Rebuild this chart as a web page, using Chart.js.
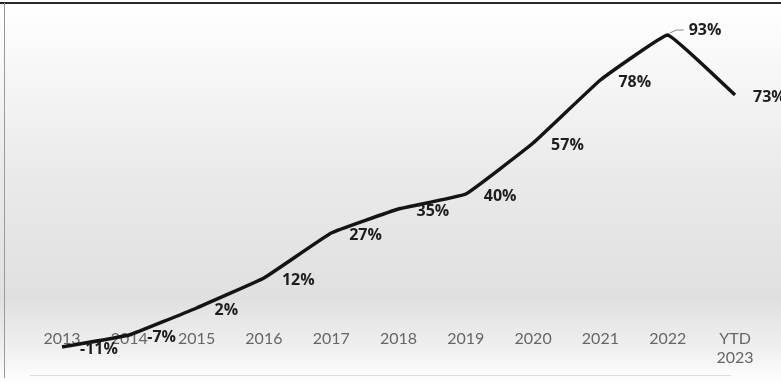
<!DOCTYPE html>
<html>
<head>
<meta charset="utf-8">
<script src="https://cdn.jsdelivr.net/npm/chart.js@4"></script>
<style>
  html, body { margin: 0; padding: 0; background: #fff; }
  #wrap { width: 781px; height: 383px; }
</style>
</head>
<body>
<div id="wrap"><canvas id="myChart" width="781" height="383"></canvas></div>
<script>
// chart data
const years = ['2013', '2014', '2015', '2016', '2017', '2018', '2019', '2020', '2021', '2022', ['YTD', '2023']]
const growth = [-11, -7, 2, 12, 27, 35, 40, 57, 78, 93, 73]

// background gradient + frame, like the scanned slide
const backdrop = {
  id: 'backdrop',
  beforeDraw(chart) {
    const ctx = chart.ctx
    const w = chart.width, h = chart.height
    const g = ctx.createLinearGradient(0, 0, 0, h)
    g.addColorStop(0, '#ffffff')
    g.addColorStop(0.12, '#fafafa')
    g.addColorStop(0.45, '#eaeaea')
    g.addColorStop(0.78, '#e0e0e0')
    g.addColorStop(0.92, '#f1f1f1')
    g.addColorStop(1, '#ffffff')
    ctx.save()
    ctx.fillStyle = g
    ctx.fillRect(0, 0, w, h)
    ctx.fillStyle = '#2a2a2a'
    ctx.fillRect(0, 2, w, 2)
    ctx.fillStyle = '#9a9a9a'
    ctx.fillRect(4, 3, 1, h - 8)
    ctx.fillStyle = '#dcdcdc'
    ctx.fillRect(30, h - 8, w - 80, 1)
    ctx.restore()
  }
}

// value labels to the right of each point
const valueLabels = {
  id: 'valueLabels',
  afterDatasetsDraw(chart) {
    const ctx = chart.ctx
    const meta = chart.getDatasetMeta(0)
    const data = chart.data.datasets[0].data
    const top = Math.max(...data)
    ctx.save()
    ctx.font = 'bold 16px "Open Sans"'
    ctx.fillStyle = '#1e1e1e'
    ctx.textBaseline = 'middle'
    meta.data.forEach((pt, i) => {
      let x = pt.x + 18, y = pt.y + 2
      if (data[i] === top) {
        // little leader line for the peak
        y = pt.y - 5
        ctx.strokeStyle = '#888'
        ctx.lineWidth = 1
        ctx.beginPath()
        ctx.moveTo(pt.x + 2, pt.y - 2)
        ctx.lineTo(pt.x + 9, pt.y - 5)
        ctx.lineTo(pt.x + 16, pt.y - 5)
        ctx.stroke()
        x = pt.x + 21
      }
      ctx.fillText(data[i] + '%', x, y)
    })
    ctx.restore()
  }
}

const ctx = document.getElementById('myChart').getContext('2d')
const chart = new Chart(ctx, {
  type: 'line',
  data: {
    labels: years,
    datasets: [{
      data: growth,
      borderColor: '#141414',
      borderWidth: 3.5,
      pointRadius: 0,
      tension: 0.08,
      clip: false
    }]
  },
  options: {
    responsive: false,
    animation: false,
    layout: { padding: { left: 62, right: 46, top: 35, bottom: 36 } },
    plugins: { legend: { display: false }, tooltip: { enabled: false } },
    scales: {
      x: {
        position: { y: -4 },
        offset: false,
        grid: { display: false, drawTicks: false },
        border: { display: false },
        ticks: {
          color: '#666666',
          padding: 3,
          maxRotation: 0,
          autoSkip: false,
          font: { family: 'Lato', size: 16 }
        }
      },
      y: {
        display: false,
        min: -11,
        max: 93
      }
    }
  },
  plugins: [backdrop, valueLabels]
})
</script>
</body>
</html>
